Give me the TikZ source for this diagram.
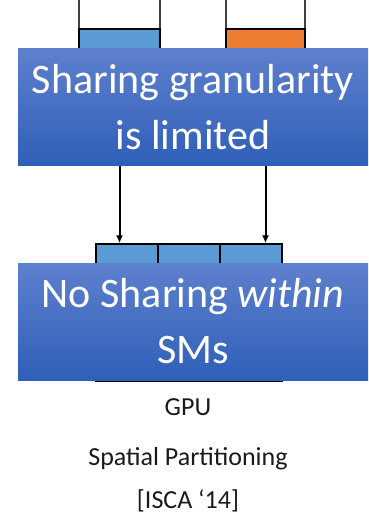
\documentclass[tikz,border=0pt]{standalone}
\usepackage{fontspec}
\setmainfont{Carlito}
\usetikzlibrary{arrows.meta}
\definecolor{boxtop}{HTML}{5E80CE}
\definecolor{boxbot}{HTML}{2F5FB8}
\definecolor{cellblue}{HTML}{5B9BD5}
\definecolor{cellorange}{HTML}{ED7D31}
\definecolor{edgegray}{HTML}{404040}
\definecolor{captext}{HTML}{1A1A1A}
\tikzset{
  bigbox/.style={rectangle, inner sep=0pt, top color=boxtop, bottom color=boxbot,
    minimum width=350pt, minimum height=117pt, text=white, align=center,
    font=\fontsize{42}{56}\selectfont},
  cell/.style={rectangle, draw=black, line width=1.5pt, inner sep=0pt},
  arr/.style={-{Latex[length=8pt,width=7pt]}, line width=2pt, black},
  side/.style={edgegray, line width=1.4pt},
  caption/.style={anchor=base, text=captext, font=\fontsize{26}{30}\selectfont},
}
\begin{document}
\begin{tikzpicture}[x=1pt,y=-1pt]
  \useasboundingbox (0,0) rectangle (368,519);

  % upper blocks, partly behind the first box
  \draw[side] (79,0) -- (79,29);
  \draw[side] (160,0) -- (160,29);
  \draw[side] (226,0) -- (226,29);
  \draw[side] (305,0) -- (305,29);
  \node[cell, fill=cellblue, minimum width=81pt, minimum height=31pt] (ltop) at (119.5,44.5) {};
  \node[cell, fill=cellorange, minimum width=79pt, minimum height=31pt] (rtop) at (265.5,44.5) {};

  \node[bigbox] (share) at (193,106.8) {Sharing granularity\\is limited};

  % lower row of cells, behind the second box
  \node[cell, fill=cellblue, minimum width=62pt, minimum height=137pt] (c1) at (127,312.5) {};
  \node[cell, fill=cellblue, minimum width=62pt, minimum height=137pt] (c2) at (189,312.5) {};
  \node[cell, fill=cellblue, minimum width=62pt, minimum height=137pt] (c3) at (251,312.5) {};

  \node[bigbox] (nosm) at (193,321.5) {No Sharing \textit{within}\\SMs};

  \draw[arr] (share.south -| ltop.center) -- (c1.north -| ltop.center);
  \draw[arr] (share.south -| rtop.center) -- (c3.north -| rtop.center);

  \node[caption] (gpu) at (188,415) {GPU};
  \node[caption] (spat) at (188,465) {Spatial Partitioning};
  \node[caption] (isca) at (188,508) {[ISCA ‘14]};
\end{tikzpicture}
\end{document}
